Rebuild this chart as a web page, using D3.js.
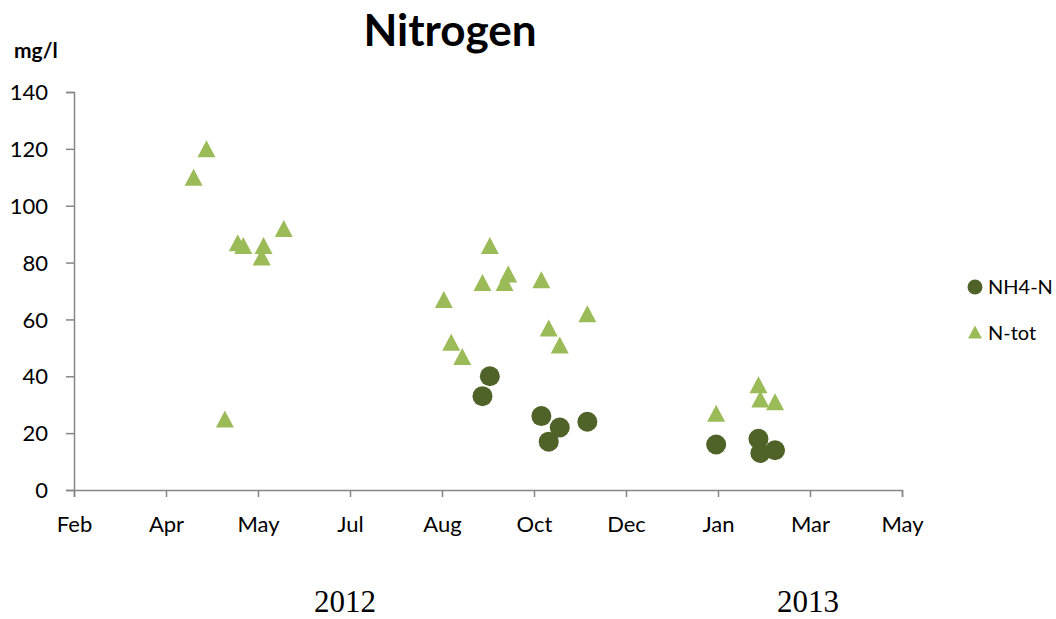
<!DOCTYPE html>
<html><head><meta charset="utf-8">
<script src="https://cdn.jsdelivr.net/npm/d3@7"></script>
<style>body{margin:0;background:#fff}svg{display:block}</style>
</head><body><svg id="c" width="1056" height="619"></svg>
<script>
const tickDates = ["2012-02-13","2012-04-03","2012-05-23","2012-07-12","2012-08-31","2012-10-20","2012-12-09","2013-01-28","2013-03-19","2013-05-08"];
const yTicks = [0,20,40,60,80,100,120,140];
const ntotDates = ["2012-04-18","2012-04-25","2012-05-05","2012-05-12","2012-05-15","2012-05-25","2012-05-26","2012-06-06",
  "2012-09-01","2012-09-05","2012-09-11","2012-09-22","2012-09-26","2012-10-04","2012-10-06","2012-10-24","2012-10-28","2012-11-03","2012-11-18",
  "2013-01-27","2013-02-19","2013-02-20","2013-02-28"];
const ntotValues = [110,120,25,87,86,82,86,92, 67,52,47,73,86,73,76,74,57,51,62, 27,37,32,31];
const nh4Dates = ["2012-09-22","2012-09-26","2012-10-24","2012-10-28","2012-11-03","2012-11-18","2013-01-27","2013-02-19","2013-02-20","2013-02-28"];
const nh4Values = [33,40,26,17,22,24,16,18,13,14];
const seriesNames = ["NH4-N","N-tot"];
const yearLabels = ["2012","2013"];

const parse = d3.timeParse("%Y-%m-%d");
const svg = d3.select("#c");
const font = "Lato, 'Open Sans', sans-serif";
const x = d3.scaleTime().domain([parse(tickDates[0]), parse(tickDates[tickDates.length-1])]).range([74, 902]);
const y = d3.scaleLinear().domain([0,140]).range([490, 92]);
const axisColor = "#868686";

// y axis
const ya = svg.append("g").attr("transform","translate(74,0)")
  .call(d3.axisLeft(y).tickValues(yTicks).tickSize(8).tickPadding(18));
ya.select(".domain").attr("stroke",axisColor).attr("stroke-width",1.5);
ya.selectAll(".tick line").attr("stroke",axisColor).attr("stroke-width",1.5);
ya.selectAll(".tick text").attr("font-family",font).attr("font-size",22).attr("fill","#000").attr("dy","0.35em");

// x axis
const xa = svg.append("g").attr("transform","translate(0,490)")
  .call(d3.axisBottom(x).tickValues(tickDates.map(parse)).tickFormat(d3.timeFormat("%b")).tickSize(7).tickPadding(19));
xa.select(".domain").attr("stroke",axisColor).attr("stroke-width",1.5);
xa.selectAll(".tick line").attr("stroke",axisColor).attr("stroke-width",1.5);
xa.selectAll(".tick text").attr("font-family",font).attr("font-size",22).attr("fill","#000");

// title & labels
svg.append("text").attr("x",450).attr("y",46).attr("text-anchor","middle")
  .attr("font-family",font).attr("font-weight","bold").attr("font-size",44).text("Nitrogen");
svg.append("text").attr("x",14).attr("y",58)
  .attr("font-family",font).attr("font-weight","bold").attr("font-size",21).text("mg/l");
svg.append("text").attr("x",345).attr("y",612).attr("text-anchor","middle")
  .attr("font-family","'Liberation Serif', 'Times New Roman', serif").attr("font-size",31).text(yearLabels[0]);
svg.append("text").attr("x",808).attr("y",612).attr("text-anchor","middle")
  .attr("font-family","'Liberation Serif', 'Times New Roman', serif").attr("font-size",31).text(yearLabels[1]);

function tri(cx, cy, w, h){ return `M${cx},${cy-h/2}L${cx+w/2},${cy+h/2}L${cx-w/2},${cy+h/2}Z`; }

const triColor = "#9BBB59", circColor = "#4F6228";
svg.append("g").selectAll("path").data(ntotDates.map((d,i)=>({d:parse(d),v:ntotValues[i]})))
  .join("path").attr("d",p=>tri(x(p.d), y(p.v), 18, 17)).attr("fill",triColor);
svg.append("g").selectAll("circle").data(nh4Dates.map((d,i)=>({d:parse(d),v:nh4Values[i]})))
  .join("circle").attr("cx",p=>x(p.d)).attr("cy",p=>y(p.v)).attr("r",10).attr("fill",circColor);

// legend
svg.append("circle").attr("cx",975).attr("cy",287).attr("r",7.5).attr("fill",circColor);
svg.append("path").attr("d",tri(975,332,14,13)).attr("fill",triColor);
svg.append("text").attr("x",988).attr("y",287).attr("dy","0.35em").attr("font-family",font).attr("font-size",20).text(seriesNames[0]);
svg.append("text").attr("x",988).attr("y",333).attr("dy","0.35em").attr("font-family",font).attr("font-size",20).text(seriesNames[1]);
</script></body></html>
